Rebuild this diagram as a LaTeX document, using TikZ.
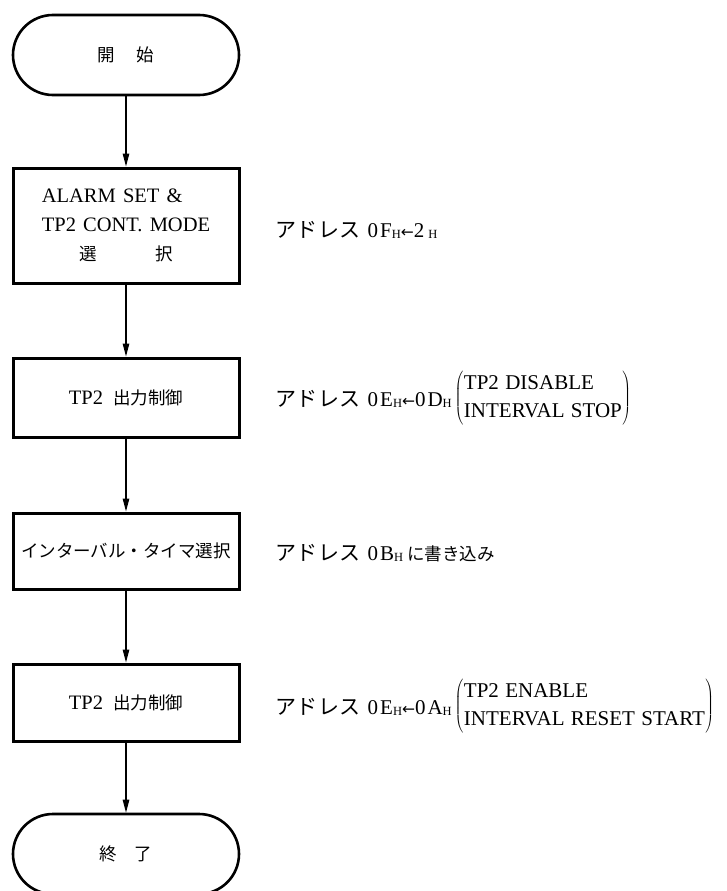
\documentclass[tikz,border=0pt]{standalone}
\usepackage{fontspec}
\setmainfont{Liberation Serif}
\newfontfamily\jp{Noto Sans CJK JP}
\newfontfamily\arrfont{DejaVu Sans}
\usetikzlibrary{arrows.meta}
\newcommand\wsp{\hspace{0.35em}}
\newcommand\wsq{\hspace{0.3em}}
\newcommand\hsub{\raisebox{-1.5pt}{\fontsize{12.5}{12.5}\selectfont H}}
\newcommand\larr{{\arrfont\fontsize{15.5}{15.5}\selectfont ←}}
\newcommand\adr{{\jp ア\hspace{0.5pt}ド\hspace{0.5pt}レ\hspace{0.5pt}ス}\hspace{7pt}}
\begin{document}
\begin{tikzpicture}[x=1pt,y=-1pt,
  box/.style={draw, line width=3pt, minimum width=226pt, inner sep=0pt,
    font=\fontsize{20.5}{29}\selectfont},
  term/.style={draw, line width=2.6pt, rounded corners=40pt,
    minimum width=226pt, minimum height=80pt, inner sep=0pt,
    font=\fontsize{17.5}{20}\selectfont\jp},
  arr/.style={line width=1.2pt, -{Triangle[length=13pt,width=6.5pt]}},
  note/.style={anchor=base west, inner sep=0pt, font=\fontsize{21}{28}\selectfont}]
\useasboundingbox (0,0) rectangle (726,891);
% flow nodes
\node[term] (start) at (126,55) {開\hspace{22pt}始};
\node[box, minimum height=115pt] (b1) at (126,225.5)
  {\begin{tabular}{@{}l@{}}ALARM\wsp SET\wsp\&\\TP2\wsp CONT.\wsp MODE\\
   \multicolumn{1}{@{}c@{}}{\fontsize{17.5}{20}\jp 選\hspace{58pt}択}\end{tabular}};
\node[box, minimum height=79pt] (b2) at (126,397.5)
  {TP2\hspace{10pt}{\fontsize{17.5}{20}\jp 出力制御}};
\node[box, minimum height=76pt] (b3) at (126,551)
  {\fontsize{17.5}{20}\jp インターバル・タイマ選択};
\node[box, minimum height=77pt] (b4) at (126,702.5)
  {TP2\hspace{10pt}{\fontsize{17.5}{20}\jp 出力制御}};
\node[term] (end) at (126,854) {終\hspace{18pt}了};
% connectors
\draw[arr] (start.south) -- (b1.north);
\draw[arr] (b1.south) -- (b2.north);
\draw[arr] (b2.south) -- (b3.north);
\draw[arr] (b3.south) -- (b4.north);
\draw[arr] (b4.south) -- (end.north);
% notes
\node[note] (n1) at (275,237)
  {\adr 0\hspace{2pt}F\hsub\larr 2\hspace{4pt}\hsub};
\node[note] (n2) at (275,406)
  {\adr 0\hspace{2pt}E\hsub\larr 0\hspace{2pt}D\hsub\hspace{3pt}%
   \raisebox{3pt}{$\left(\hspace{0.5pt}\begin{tabular}{@{}l@{}}TP2\wsq DISABLE\\INTERVAL\wsq STOP\end{tabular}\hspace{0.5pt}\right)$}};
\node[note] (n3) at (275,560)
  {\adr 0\hspace{2pt}B\hsub\hspace{4pt}{\fontsize{17.5}{20}\jp に書き込み}};
\node[note] (n4) at (275,714)
  {\adr 0\hspace{2pt}E\hsub\larr 0\hspace{2pt}A\hsub\hspace{3pt}%
   \raisebox{3pt}{$\left(\hspace{0.5pt}\begin{tabular}{@{}l@{}}TP2\wsq ENABLE\\INTERVAL\wsq RESET\wsq START\end{tabular}\hspace{0.5pt}\right)$}};
\end{tikzpicture}
\end{document}
